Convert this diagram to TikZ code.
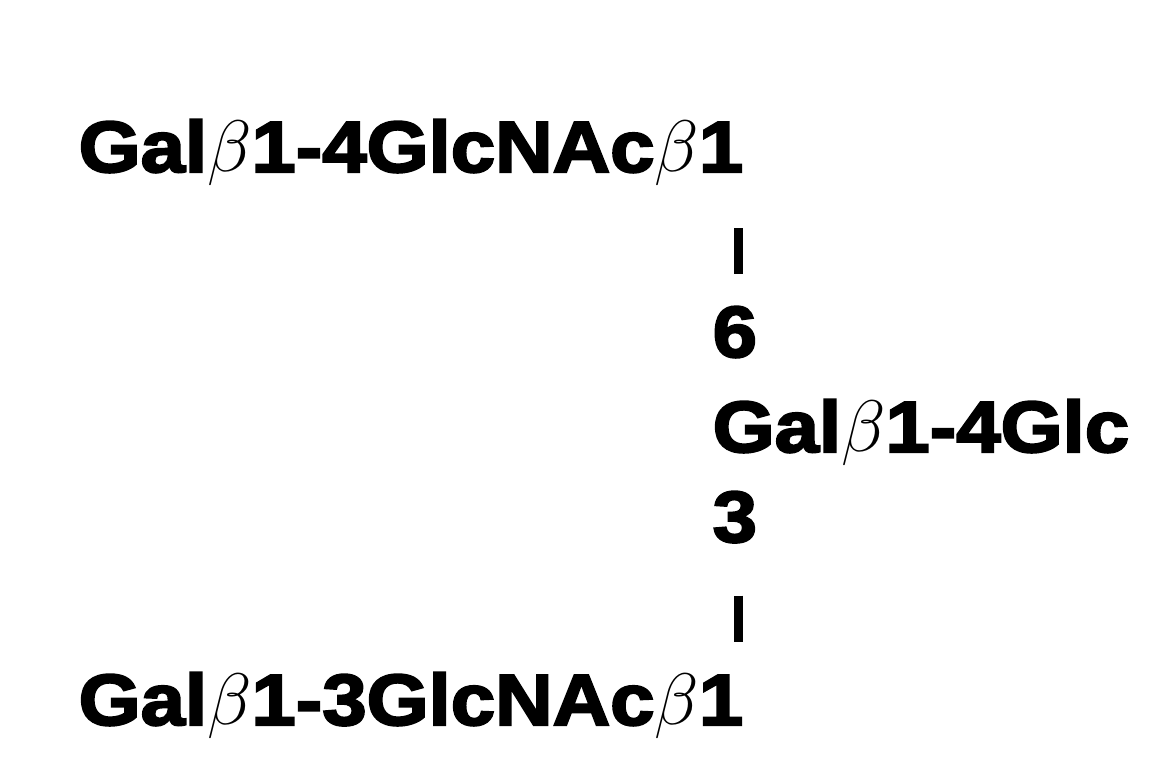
\documentclass[tikz,border=0pt]{standalone}
\usepackage{fontspec}
\usepackage{amsmath}
\usepackage{amssymb}
\setmainfont{Liberation Sans}[BoldFeatures={FakeBold=3,FakeStretch=1.1}]

\begin{document}
\begin{tikzpicture}[x=0.01cm,y=0.01cm]
  \tikzstyle{every node}+=[inner sep=0pt,anchor=base west,font=\fontsize{20.6}{24}\selectfont\bfseries]
  \tikzstyle{bond}=[line width=2.6pt]
  \useasboundingbox (0,0) rectangle (1162,758);
  \node (gal4) at (78,586) {Gal$\beta$1-4GlcNAc$\beta$1};
  \node (six) at (712,401) {6};
  \node (lac) at (712,306) {Gal$\beta$1-4Glc};
  \node (three) at (712,216) {3};
  \node (gal3) at (78,33) {Gal$\beta$1-3GlcNAc$\beta$1};
  \draw [bond,shorten <=0.32cm,shorten >=0.56cm] ([xshift=0.04cm]six.north) -- ([xshift=0.04cm]six.north |- gal4.base);
  \draw [bond,shorten <=0.52cm,shorten >=0.83cm] ([xshift=0.04cm]three.south) -- ([xshift=0.04cm]three.south |- gal3.base);
\end{tikzpicture}
\end{document}
